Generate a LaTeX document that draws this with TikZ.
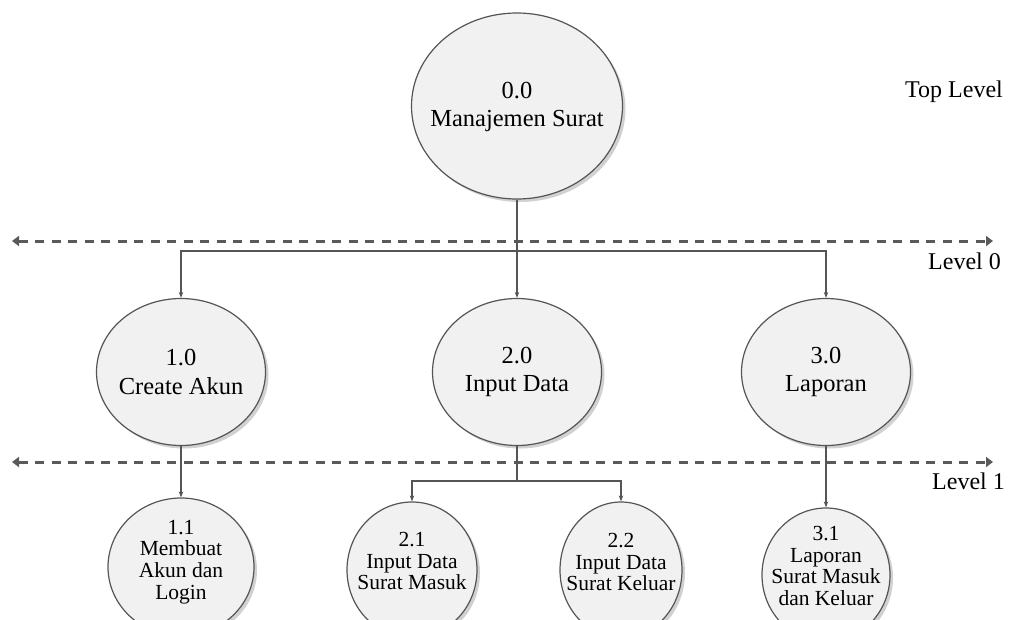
\documentclass[tikz,border=0pt]{standalone}
\usepackage{fontspec}
\setmainfont{Liberation Serif}
\usetikzlibrary{shapes.geometric,shadows,arrows.meta}
\definecolor{linegray}{HTML}{555555}
\definecolor{dashgray}{HTML}{5A5A5A}
\definecolor{fillgray}{HTML}{F1F1F1}
\begin{document}
\begin{tikzpicture}[x=1pt,y=-1pt,
  proc/.style={ellipse, draw=linegray, line width=1.2pt, fill=fillgray, inner sep=0pt,
    drop shadow={shadow xshift=3pt, shadow yshift=-3pt, opacity=0.18, fill=black}},
  bigtxt/.style={align=center, inner sep=0pt, font=\fontsize{24.5}{28.5}\selectfont},
  smalltxt/.style={align=center, inner sep=0pt, font=\fontsize{21.5}{21.6}\selectfont},
  conn/.style={draw=linegray, line width=1.1pt, -{Stealth[length=6pt,width=4.5pt]}},
  plainline/.style={draw=linegray, line width=1.1pt},
  levelline/.style={draw=dashgray, line width=3pt, dash pattern=on 9pt off 7.5pt,
    {Triangle[length=7pt,width=10pt]}-{Triangle[length=7pt,width=10pt]}},
  lvltext/.style={inner sep=0pt, anchor=base west, font=\fontsize{24}{28}\selectfont}]
\useasboundingbox (0,0) rectangle (1009,619);

% level lines
\coordinate (l0a) at (12,241);
\coordinate (l0b) at (993,241);
\coordinate (l1a) at (12,462);
\coordinate (l1b) at (993,462);
\draw[levelline] (l0a) -- (l0b);
\draw[levelline] (l1a) -- (l1b);

% processes
\node[proc, minimum width=211pt, minimum height=186pt] (c0) at (517,106) {};
\node[bigtxt] (t0) at (517,107) {0.0\\Manajemen Surat};

\node[proc, minimum width=169pt, minimum height=147pt] (c1) at (181,372) {};
\node[bigtxt] (t1) at (181,372) {1.0\\Create Akun};
\node[proc, minimum width=169pt, minimum height=147pt] (c2) at (517,372) {};
\node[bigtxt] (t2) at (517,372) {2.0\\Input Data};
\node[proc, minimum width=169pt, minimum height=147pt] (c3) at (826,372) {};
\node[bigtxt] (t3) at (826,372) {3.0\\Laporan};

\node[proc, minimum width=146pt, minimum height=138pt] (c11) at (181,567) {};
\node[smalltxt] (t11) at (181,562) {1.1\\Membuat\\Akun dan\\Login};
\node[proc, minimum width=130pt, minimum height=136pt] (c21) at (412,570) {};
\node[smalltxt] (t21) at (412,561) {2.1\\Input Data\\Surat Masuk};
\node[proc, minimum width=122pt, minimum height=136pt] (c22) at (621,570) {};
\node[smalltxt] (t22) at (621,562) {2.2\\Input Data\\Surat Keluar};
\node[proc, minimum width=128pt, minimum height=134pt] (c31) at (826,575) {};
\node[smalltxt] (t31) at (826,566) {3.1\\Laporan\\Surat Masuk\\dan Keluar};

% connectors
\coordinate (j0) at (517,251);
\draw[plainline] (c0.south) -- (j0);
\draw[conn] (j0) -| (c1.north);
\draw[conn] (j0) -- (c2.north);
\draw[conn] (j0) -| (c3.north);

\coordinate (j2) at (517,481);
\draw[plainline] (c2.south) -- (j2);
\draw[conn] (j2) -| (c21.north);
\draw[conn] (j2) -| (c22.north);

\draw[conn] (c1.south) -- (c11.north);
\draw[conn] (c3.south) -- (c31.north);

% level labels
\node[lvltext] (lt) at (905,97) {Top Level};
\node[lvltext] (lz) at (928,269) {Level 0};
\node[lvltext] (lo) at (932,489) {Level 1};
\end{tikzpicture}
\end{document}
